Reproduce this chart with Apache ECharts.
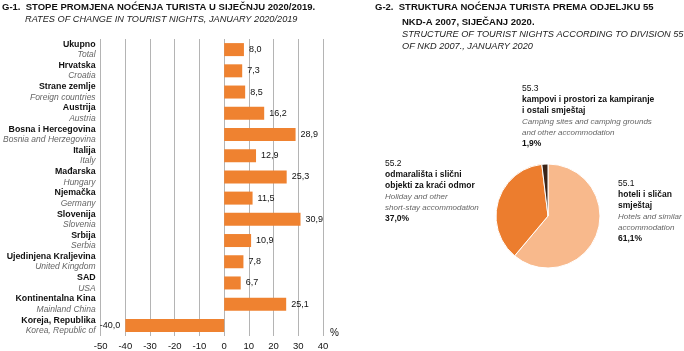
<!DOCTYPE html>
<html>
<head>
<meta charset="utf-8">
<script src="https://cdn.jsdelivr.net/npm/echarts@6/dist/echarts.min.js"></script>
<style>
  html, body { margin: 0; padding: 0; background: #fff; }
  #chart { width: 684px; height: 351px; }
</style>
</head>
<body>
<div id="chart"></div>
<script>
// G-1 podaci
const countries = ['Ukupno', 'Hrvatska', 'Strane zemlje', 'Austrija', 'Bosna i Hercegovina', 'Italija',
  'Mađarska', 'Njemačka', 'Slovenija', 'Srbija', 'Ujedinjena Kraljevina', 'SAD', 'Kontinentalna Kina', 'Koreja, Republika'];
const countriesEn = ['Total', 'Croatia', 'Foreign countries', 'Austria', 'Bosnia and Herzegovina', 'Italy',
  'Hungary', 'Germany', 'Slovenia', 'Serbia', 'United Kingdom', 'USA', 'Mainland China', 'Korea, Republic of'];
const changes = [8.0, 7.3, 8.5, 16.2, 28.9, 12.9, 25.3, 11.5, 30.9, 10.9, 7.8, 6.7, 25.1, -40.0];
const xTicks = [-50, 40, 10]; // min, max, interval

// G-2 podaci
const pieCodes = ['55.1', '55.2', '55.3'];
const pieNames = ['hoteli i sličan\nsmještaj', 'odmarališta i slični\nobjekti za kraći odmor', 'kampovi i prostori za kampiranje\ni ostali smještaj'];
const pieNamesEn = ['Hotels and similar\naccommodation', 'Holiday and other\nshort-stay accommodation', 'Camping sites and camping grounds\nand other accommodation'];
const pieShares = [61.1, 37.0, 1.9];
const pieColors = ['#f8b98c', '#ec7d2e', '#3a2418'];

const FONT = "'Liberation Sans Narrow', 'Liberation Sans', sans-serif";
const fmt = (v) => v.toFixed(1).replace('.', ',');

// pozicije natpisa kolača
const pieLabelPos = [
  { x: 618, y: 178 },
  { x: 385, y: 158 },
  { x: 522, y: 83 },
];

const chart = echarts.init(document.getElementById('chart'));

const titleBold = { fontFamily: FONT, fontSize: 9.5, fontWeight: 'bold', color: '#111' };
const titleItalic = { fontFamily: FONT, fontSize: 9.2, fontWeight: 'normal', fontStyle: 'italic', color: '#222' };

const option = {
  animation: false,
  textStyle: { fontFamily: FONT },
  title: [
    { text: 'G-1.  STOPE PROMJENA NOĆENJA TURISTA U SIJEČNJU 2020/2019.', left: 2, top: 2, padding: 0, textStyle: titleBold },
    { text: 'RATES OF CHANGE IN TOURIST NIGHTS, JANUARY 2020/2019', left: 25, top: 15, padding: 0, textStyle: titleItalic },
    { text: 'G-2.  STRUKTURA NOĆENJA TURISTA PREMA ODJELJKU 55', left: 375, top: 2, padding: 0, textStyle: titleBold },
    { text: 'NKD-A 2007, SIJEČANJ 2020.', left: 402, top: 17, padding: 0, textStyle: titleBold },
    {
      text: 'STRUCTURE OF TOURIST NIGHTS ACCORDING TO DIVISION 55\nOF NKD 2007., JANUARY 2020',
      left: 402, top: 29, padding: 0,
      textStyle: Object.assign({}, titleItalic, { lineHeight: 11.5 }),
    },
  ],
  grid: { left: 100, top: 39, width: 223, height: 298 },
  xAxis: {
    type: 'value',
    min: xTicks[0],
    max: xTicks[1],
    interval: xTicks[2],
    axisLine: { show: false },
    axisTick: { show: false },
    splitLine: { show: true, lineStyle: { color: '#b4b4b4', width: 1 } },
    axisLabel: { fontSize: 9.5, color: '#111', margin: 5, fontFamily: FONT },
  },
  yAxis: {
    type: 'category',
    inverse: true,
    data: countries,
    axisLine: { show: false },
    axisTick: { show: false },
    axisLabel: {
      margin: 5,
      formatter: (value, idx) => `{a|${value}}\n{b|${countriesEn[idx]}}`,
      rich: {
        a: { fontFamily: FONT, fontSize: 8.8, fontWeight: 'bold', color: '#111', lineHeight: 10.5, align: 'right' },
        b: { fontFamily: FONT, fontSize: 8.5, fontStyle: 'italic', color: '#666', lineHeight: 10.5, align: 'right' },
      },
    },
  },
  graphic: [
    {
      type: 'text', left: 330, top: 328,
      style: { text: '%', fontFamily: FONT, fontSize: 10, fill: '#111' },
    },
  ],
  series: [
    {
      type: 'bar',
      data: changes.map((v) => ({
        value: v,
        label: { position: v < 0 ? 'left' : 'right' },
      })),
      barWidth: 13,
      itemStyle: { color: '#ef8230' },
      label: {
        show: true,
        distance: 5,
        fontSize: 9,
        fontFamily: FONT,
        color: '#111',
        formatter: (p) => fmt(p.value),
      },
    },
    {
      type: 'pie',
      center: [548, 216],
      radius: 52,
      startAngle: 90,
      clockwise: true,
      data: pieShares.map((v, i) => ({ value: v, name: pieCodes[i], itemStyle: { color: pieColors[i] } })),
      itemStyle: { borderColor: '#fff', borderWidth: 1 },
      labelLine: { show: false },
      label: {
        show: true,
        position: 'outside',
        align: 'left',
        overflow: 'none',
        formatter: (p) => {
          const i = p.dataIndex;
          return `{c|${pieCodes[i]}}\n{n|${pieNames[i]}}\n{e|${pieNamesEn[i]}}\n{p|${fmt(pieShares[i])}%}`;
        },
        rich: {
          c: { fontFamily: FONT, fontSize: 8.5, color: '#111', lineHeight: 11 },
          n: { fontFamily: FONT, fontSize: 8.5, fontWeight: 'bold', color: '#111', lineHeight: 11 },
          e: { fontFamily: FONT, fontSize: 8, fontStyle: 'italic', color: '#666', lineHeight: 11 },
          p: { fontFamily: FONT, fontSize: 8.5, fontWeight: 'bold', color: '#111', lineHeight: 11 },
        },
      },
      labelLayout: (params) => ({
        x: pieLabelPos[params.dataIndex].x,
        y: pieLabelPos[params.dataIndex].y,
        align: 'left',
        verticalAlign: 'top',
      }),
      emphasis: { disabled: true },
    },
  ],
};

chart.setOption(option);
</script>
</body>
</html>
